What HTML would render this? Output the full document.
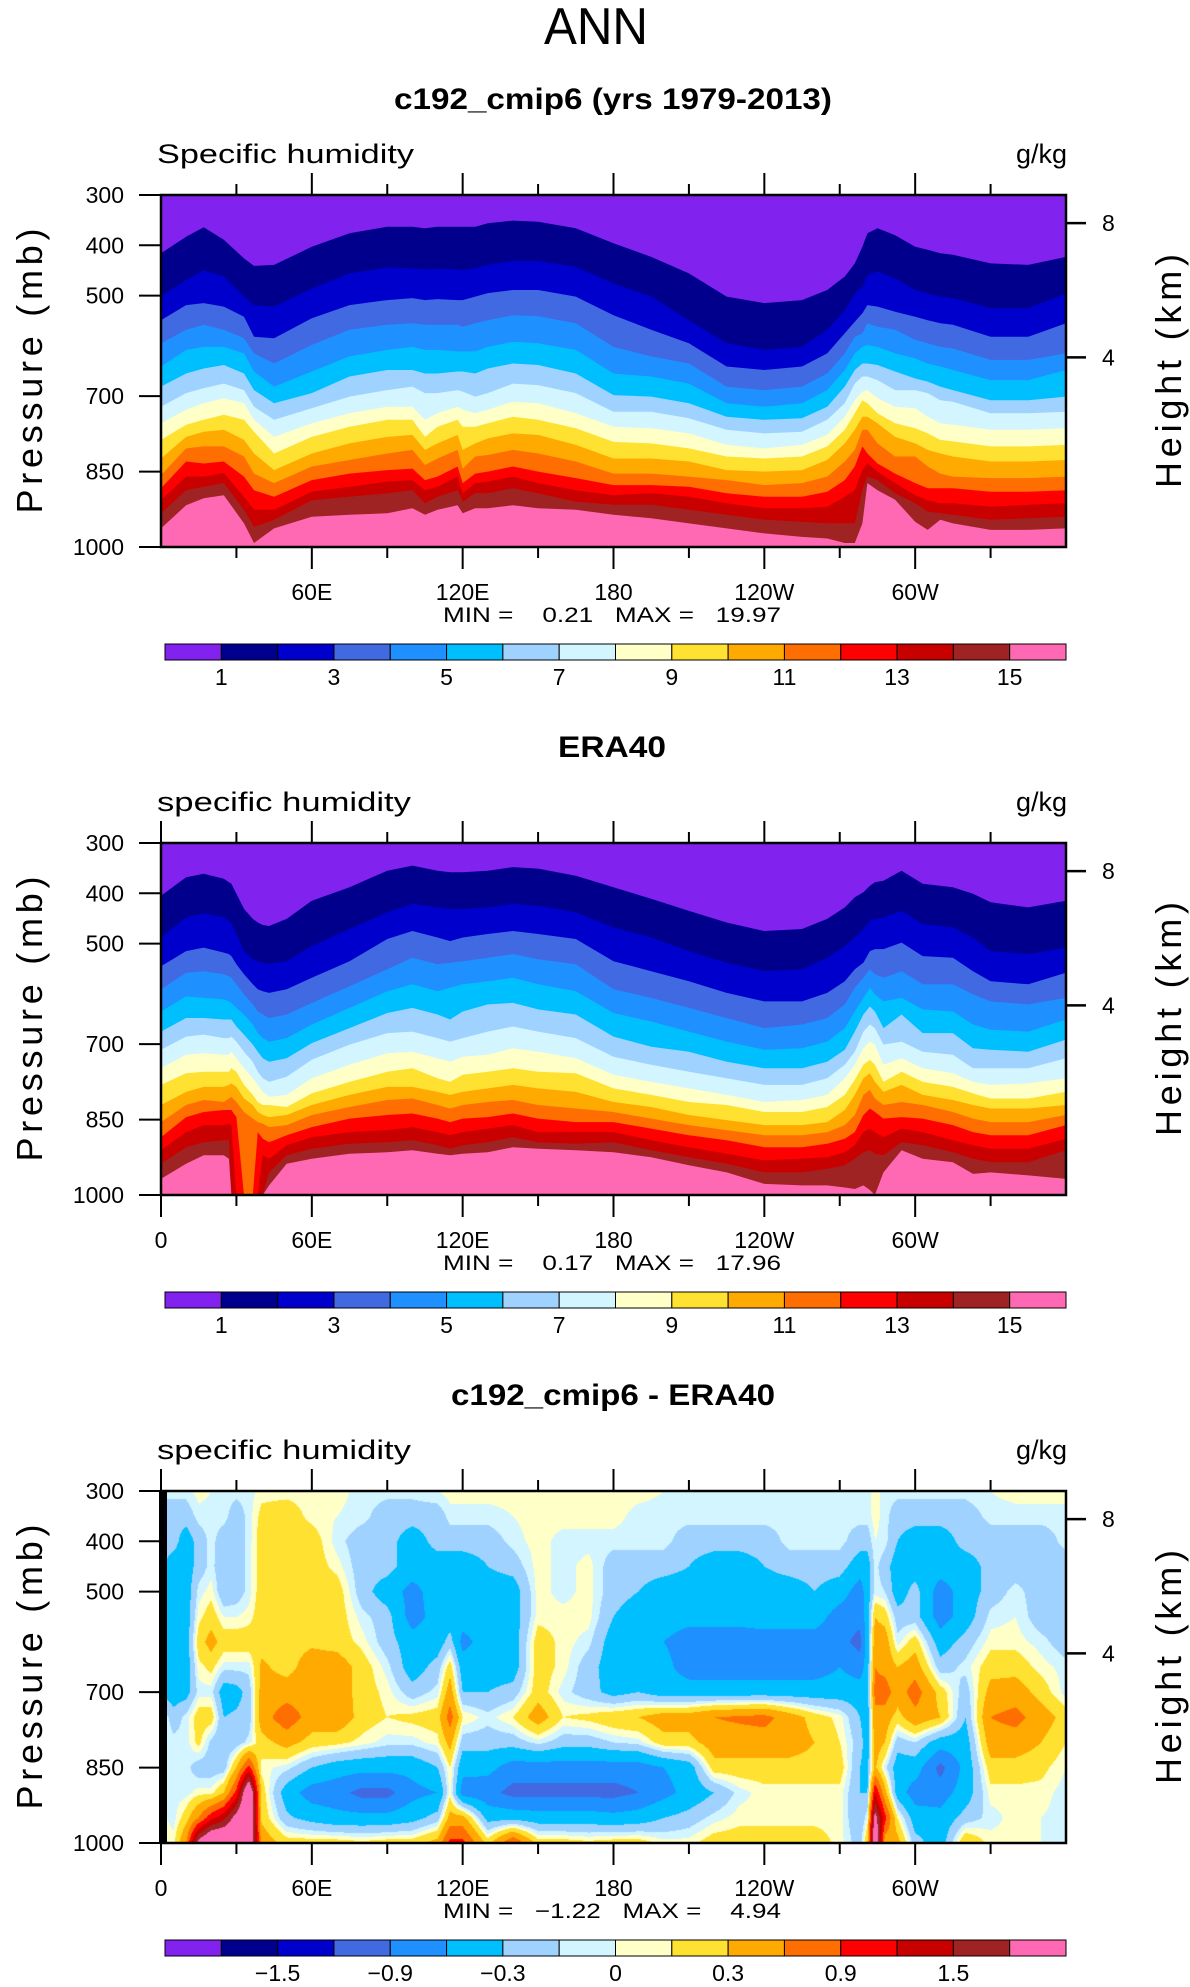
<!DOCTYPE html>
<html><head><meta charset="utf-8">
<style>
html,body{margin:0;padding:0;background:#fff;}
#wrap{position:relative;width:1190px;height:1987px;overflow:hidden;}
#c3{position:absolute;left:161px;top:1491px;}
#svg{position:absolute;left:0;top:0;}
text{font-family:"Liberation Sans",sans-serif;fill:#000;}
</style></head>
<body>
<div id="wrap">
<canvas id="c3" width="905" height="352"></canvas>
<svg id="svg" width="1190" height="1987" xmlns="http://www.w3.org/2000/svg">
<text x="596" y="44" text-anchor="middle" font-size="52" textLength="104" lengthAdjust="spacingAndGlyphs">ANN</text>
<g id="p1"></g>
<g id="p2"></g>
<g id="p3"></g>
</svg>
</div>
<script>
const colors = ["#8222EE","#00008C","#0000CD","#4169E1","#1E90FF","#00BFFF","#A0D2FF","#D2F5FF","#FFFFC8","#FFE132","#FFAA00","#FF6E00","#FF0000","#C80000","#A02323","#FF69B4"];
const qLevelLabels = ["","1","","3","","5","","7","","9","","11","","13","","15"];
const dLevels = [-1.8,-1.5,-1.2,-0.9,-0.6,-0.3,-0.1,0,0.1,0.3,0.6,0.9,1.2,1.5,1.8];
const dLevelLabels = ["","","−1.5","","−0.9","","−0.3","","0","","0.3","","0.9","","1.5",""];
const lonTickValues = [0,60,120,180,240,300];
const lonTickLabels = ["0","60E","120E","180","120W","60W"];
const pressureTicks = [300,400,500,700,850,1000];
const heightTicksKm = ["8","4"];
const heightTickPressures = [356,623];

const lons1 = [0,10,17,25,33,37,45,60,75,90,100,105,110,118,120,125,130,140,150,165,180,195,210,225,240,255,265,272,276,279,281,285,292,300,305,310,315,330,345,360];
const bounds1 = [
[416,501,549,595,641,681,721,754,787,824,857,883,907,933,963],
[383,469,519,568,608,655,694,727,757,781,804,830,860,887,917],
[364,450,515,558,602,645,684,714,747,771,800,834,860,880,903],
[389,462,522,568,602,638,675,704,737,767,800,830,853,873,897],
[426,502,542,585,615,655,688,714,747,787,820,860,900,926,953],
[441,519,582,615,651,688,721,747,771,814,854,887,926,960,992],
[439,522,585,635,681,714,747,781,814,847,873,900,926,946,963],
[403,486,545,598,651,694,724,754,781,814,840,867,890,907,940],
[376,456,519,568,621,661,701,734,761,794,827,854,880,900,936],
[363,444,509,558,608,648,688,721,747,781,814,847,870,893,933],
[363,446,505,555,602,648,681,721,747,777,807,844,867,887,923],
[366,448,509,558,608,655,694,747,781,807,837,867,887,913,936],
[363,447,507,558,608,655,694,734,761,794,824,860,880,900,926],
[363,448,509,558,611,651,688,721,747,777,807,840,860,887,917],
[363,449,509,562,611,651,691,727,761,807,844,873,893,910,933],
[363,446,502,555,611,655,701,734,761,794,820,854,873,893,923],
[356,439,495,549,602,645,694,727,754,784,817,850,870,893,923],
[351,431,489,539,592,635,675,711,741,774,807,840,860,883,917],
[353,431,489,541,595,638,678,714,747,777,814,850,873,893,923],
[366,443,502,555,608,655,694,734,764,797,830,863,887,910,926],
[396,476,539,602,655,698,731,761,791,824,854,877,897,916,936],
[423,502,568,621,661,701,731,764,794,824,854,877,893,916,943],
[456,549,595,635,675,714,744,774,804,830,860,880,900,926,953],
[502,595,641,681,714,741,767,797,820,847,867,893,913,936,963],
[515,608,648,688,721,747,774,804,824,850,877,900,923,946,973],
[509,602,641,681,714,744,771,797,820,847,873,900,923,950,980],
[489,568,615,655,688,721,747,777,800,827,860,890,920,953,983],
[462,529,575,615,648,681,714,741,767,794,830,867,900,953,992],
[436,496,552,582,615,648,675,708,734,767,807,840,887,953,992],
[403,482,535,575,602,635,661,691,708,741,767,800,847,887,953],
[376,459,519,555,598,635,661,688,714,741,767,814,834,860,873],
[366,452,522,562,602,638,668,704,734,754,794,834,850,867,887],
[380,466,532,568,615,651,688,721,754,781,820,854,873,893,906],
[403,489,542,588,625,665,688,724,764,794,820,873,897,913,950],
[409,496,549,595,635,671,694,741,774,807,840,883,907,930,966],
[416,502,555,602,641,681,708,754,787,814,854,883,913,933,946],
[419,505,558,605,648,688,711,757,790,820,860,883,913,936,953],
[436,525,582,628,668,708,734,767,800,830,863,890,920,946,966],
[439,525,582,628,668,708,734,767,800,830,863,890,916,943,966],
[423,496,555,615,648,701,731,764,797,827,860,887,913,940,963]
];

const lons2 = [0,10,17,25,27,28,30,33,36.5,38.5,40.5,43,50,60,75,90,100,110,115,120,130,140,150,165,180,195,210,225,240,255,265,272,276,279.4,282,284,287.4,294.6,303,315,323,330,345,360];
const bounds2 = [
[405,488,545,591,635,675,711,748,781,821,855,885,911,938,968],
[368,448,515,558,605,648,685,721,758,795,821,845,875,905,938],
[361,440,508,555,608,648,681,718,755,785,811,835,861,895,921],
[371,448,518,561,611,651,688,721,755,785,815,831,861,891,921],
[378,455,521,565,615,651,688,721,755,781,808,831,858,891,928],
[381,461,525,568,618,651,685,715,748,778,805,831,861,1000,1000],
[401,481,541,581,628,665,695,728,755,785,815,845,1000,1000,1000],
[431,515,561,601,641,681,715,748,781,808,835,1000,1000,1000,1000],
[451,531,581,621,661,701,735,768,801,821,848,1000,1000,1000,1000],
[458,535,591,635,678,715,755,781,815,835,855,875,1000,1000,1000],
[463,538,595,641,688,728,768,795,821,841,858,888,921,1000,1000],
[465,540,598,648,695,735,775,805,821,845,865,895,928,955,981],
[451,535,591,641,688,728,765,801,825,841,861,881,901,921,938],
[415,505,568,618,661,698,731,768,798,821,841,865,885,908,928],
[388,471,535,585,628,668,701,741,775,801,825,848,875,898,918],
[355,438,491,551,595,638,678,718,755,785,811,841,871,895,915],
[345,421,475,528,581,628,675,715,748,785,808,838,865,891,911],
[355,428,488,541,595,641,688,728,768,795,821,848,875,901,918],
[358,431,495,538,588,651,695,735,775,801,828,855,881,908,921],
[358,431,488,535,581,635,688,725,761,795,821,848,875,901,918],
[355,428,481,528,575,621,675,721,755,788,815,845,868,895,915],
[348,421,475,521,568,618,665,708,748,781,811,838,861,885,905],
[351,425,481,531,581,631,675,715,755,788,821,848,875,895,908],
[365,438,491,541,595,641,688,728,758,795,828,855,875,898,911],
[388,468,535,591,638,685,725,761,788,815,835,855,875,895,915],
[411,488,555,608,655,705,741,775,801,825,848,868,891,911,925],
[435,515,575,628,675,715,755,788,815,841,861,881,905,925,941],
[458,538,598,648,695,735,768,801,821,851,871,891,918,938,955],
[475,555,615,668,711,748,781,815,835,861,881,905,931,955,978],
[471,551,615,661,708,748,781,811,835,861,881,905,928,955,981],
[451,528,598,648,695,735,768,801,825,855,875,898,925,948,981],
[428,505,575,621,668,711,741,768,801,831,861,888,915,941,985],
[408,488,551,588,635,675,715,741,771,801,841,875,901,928,988],
[398,471,538,568,608,641,675,708,741,768,801,841,875,915,981],
[385,455,515,551,588,625,661,695,731,758,791,828,868,911,990],
[378,451,511,561,601,635,668,701,741,775,808,835,875,918,1000],
[375,448,511,568,615,668,701,741,775,795,821,848,885,921,955],
[355,435,498,555,608,641,695,728,755,781,815,845,868,895,911],
[381,461,525,581,631,678,715,748,775,801,821,848,875,901,928],
[388,468,528,581,635,678,721,758,785,811,835,861,891,915,935],
[401,488,555,601,661,708,748,775,798,821,848,875,901,928,958],
[418,515,575,615,671,711,748,781,808,828,855,881,908,935,955],
[428,521,581,621,675,715,748,778,808,828,855,881,908,935,961],
[415,508,558,608,651,691,728,768,795,821,841,861,888,911,968]
];

const lons3 = [0,5,10,15,20,25,30,35,40,50,60,70,80,90,100,110,115,120,130,140,150,160,170,180,190,200,210,220,230,240,250,260,270,278,281,284,288,293,300,310,320,330,340,350,360];
const pRows3 = [300,350,400,450,500,550,600,650,700,750,800,850,900,950,1000];
const vals3 = [
[-0.05,-0.2,-0.2,-0.25,-0.3,-0.3,-0.35,-0.35,-0.35,0.05,0.05,0.05,0.05,0.05,0.05],
[-0.05,-0.2,-0.2,-0.45,-0.45,-0.45,-0.45,-0.45,-0.45,-0.2,-0.05,-0.05,-0.05,-0.05,0.05],
[-0.05,-0.2,-0.45,-0.45,-0.45,-0.45,-0.45,-0.45,-0.4,-0.05,-0.05,-0.05,-0.05,0.2,0.6],
[0.05,-0.05,-0.2,-0.2,-0.05,0.05,0.2,0.05,-0.05,0.2,0.15,-0.2,0.05,0.6,2.0],
[0.0,-0.05,-0.05,-0.05,0.05,0.2,0.4,0.15,-0.05,0.2,-0.15,-0.2,0.05,1.1,2.5],
[-0.05,-0.05,-0.2,-0.25,-0.25,0.0,0.2,-0.05,-0.45,-0.3,-0.25,-0.2,0.3,1.4,2.5],
[-0.05,-0.2,-0.2,-0.2,-0.2,0.0,0.2,-0.05,-0.4,-0.25,-0.2,0.3,1.0,2.0,2.5],
[-0.05,-0.05,-0.05,-0.05,-0.05,0.05,0.2,-0.05,-0.2,-0.2,-0.05,1.0,2.5,2.5,2.5],
[0.05,0.15,0.2,0.2,0.2,0.2,0.2,0.35,0.4,0.45,0.2,0.05,0.2,0.25,0.5],
[0.05,0.2,0.25,0.25,0.25,0.25,0.2,0.2,0.45,0.8,0.4,-0.05,-0.45,-0.25,0.2],
[0.05,0.05,0.2,0.2,0.2,0.2,0.25,0.45,0.45,0.45,0.2,-0.3,-0.75,-0.4,0.2],
[0.05,0.0,-0.05,0.05,0.2,0.2,0.2,0.45,0.45,0.5,0.15,-0.45,-0.8,-0.5,0.2],
[-0.05,-0.05,-0.2,-0.2,-0.2,-0.05,0.05,0.2,0.2,0.2,0.05,-0.5,-1.0,-0.5,0.15],
[-0.05,-0.2,-0.2,-0.2,-0.45,-0.2,-0.2,-0.05,0.05,0.1,-0.05,-0.5,-1.0,-0.5,0.2],
[-0.05,-0.2,-0.45,-0.45,-0.7,-0.75,-0.45,-0.45,-0.2,0.15,-0.05,-0.5,-0.7,-0.4,0.2],
[0.0,-0.2,-0.2,-0.45,-0.45,-0.45,-0.45,-0.2,-0.05,0.2,0.05,-0.3,-0.6,-0.2,0.4],
[0.05,-0.05,-0.2,-0.45,-0.45,-0.45,-0.2,0.2,0.45,0.75,0.4,0.1,0.05,0.4,1.0],
[0.05,-0.05,-0.2,-0.45,-0.45,-0.45,-0.7,-0.45,-0.3,0.1,-0.2,-0.5,-0.75,0.4,1.0],
[0.05,-0.05,-0.2,-0.3,-0.45,-0.45,-0.45,-0.45,-0.3,-0.05,-0.2,-0.5,-0.8,-0.4,0.2],
[0.05,0.0,-0.05,-0.2,-0.45,-0.45,-0.45,-0.45,-0.2,0.1,-0.2,-0.75,-1.0,-0.4,0.9],
[0.05,0.05,0.05,0.05,0.05,0.05,0.2,0.2,0.2,0.45,-0.05,-0.75,-1.0,-0.45,0.2],
[0.05,0.05,-0.05,-0.05,-0.05,0.05,0.05,0.05,-0.05,0.1,-0.2,-0.75,-1.0,-0.45,0.2],
[0.05,0.05,-0.05,0.05,0.05,0.05,-0.05,-0.2,-0.2,0.15,-0.2,-0.75,-1.0,-0.45,0.15],
[0.05,0.05,-0.05,-0.2,-0.2,-0.3,-0.45,-0.45,-0.4,0.25,-0.1,-0.75,-1.0,-0.5,0.2],
[0.05,-0.05,-0.05,-0.2,-0.3,-0.45,-0.45,-0.45,-0.3,0.3,-0.05,-0.75,-0.9,-0.45,0.2],
[0.0,-0.05,-0.05,-0.2,-0.45,-0.45,-0.6,-0.5,-0.45,0.45,0.2,-0.6,-0.7,-0.3,0.05],
[-0.05,-0.05,-0.2,-0.3,-0.45,-0.5,-0.75,-0.75,-0.45,0.45,0.2,-0.45,-0.5,-0.2,0.05],
[-0.05,-0.05,-0.2,-0.45,-0.45,-0.5,-0.75,-0.75,-0.45,0.6,0.45,0.2,-0.3,-0.05,0.2],
[-0.05,-0.05,-0.2,-0.45,-0.45,-0.5,-0.75,-0.75,-0.45,0.65,0.45,0.2,-0.05,0.05,0.2],
[-0.05,-0.05,-0.2,-0.3,-0.45,-0.45,-0.75,-0.75,-0.45,0.7,0.45,0.2,0.05,0.05,0.2],
[-0.05,-0.05,-0.05,-0.2,-0.45,-0.45,-0.75,-0.75,-0.45,0.45,0.45,0.2,0.05,0.05,0.2],
[-0.05,-0.05,-0.05,-0.2,-0.3,-0.45,-0.75,-0.75,-0.45,0.2,0.3,0.2,0.05,0.05,0.2],
[-0.05,-0.05,-0.05,-0.2,-0.45,-0.75,-0.8,-0.6,-0.45,0.05,0.1,0.2,0.05,0.05,0.05],
[-0.05,-0.05,-0.2,-0.45,-0.75,-0.8,-1.0,-0.75,-0.45,-0.3,-0.2,-0.3,-0.3,-0.3,-0.2],
[-0.05,-0.05,-0.2,-0.45,-0.45,-0.45,-0.45,-0.45,-0.45,-0.45,-0.45,-0.4,-0.3,0.0,0.3],
[0.05,0.05,0.0,-0.05,-0.05,0.3,0.45,0.6,0.7,0.5,0.45,0.35,1.2,2.0,2.5],
[-0.05,-0.05,-0.05,-0.2,-0.1,0.2,0.45,0.5,0.75,0.45,0.3,-0.05,0.4,1.0,0.4],
[-0.05,-0.2,-0.3,-0.45,-0.45,-0.2,-0.05,0.3,0.45,0.2,-0.2,-0.45,-0.45,0.1,0.4],
[-0.05,-0.2,-0.45,-0.45,-0.2,-0.2,0.2,0.45,0.75,0.5,-0.1,-0.45,-0.75,-0.45,-0.2],
[-0.05,-0.2,-0.45,-0.45,-0.75,-0.75,-0.45,-0.2,0.2,0.3,-0.45,-1.0,-0.75,-0.5,-0.45],
[-0.05,-0.2,-0.2,-0.45,-0.45,-0.45,-0.2,-0.05,-0.2,-0.3,-0.45,-0.5,-0.45,-0.2,0.3],
[0.0,-0.05,-0.2,-0.2,-0.2,-0.05,0.05,0.2,0.4,0.6,0.45,0.2,0.05,-0.05,0.05],
[0.05,-0.05,-0.2,-0.2,-0.05,0.0,0.05,0.2,0.45,0.7,0.45,0.2,0.05,0.05,0.05],
[0.05,-0.05,-0.2,-0.2,-0.2,-0.2,-0.05,0.05,0.2,0.45,0.3,0.15,0.05,0.0,0.0],
[0.05,-0.05,-0.05,-0.2,-0.2,-0.2,-0.2,-0.05,-0.05,0.2,0.1,0.0,-0.05,-0.05,-0.05]
];

const NS = "http://www.w3.org/2000/svg";
const L = 161, R = 1066, W = 905, H = 352;
function X(lon){ return L + lon / 360 * W; }
function Y(top, p){ return top + (Math.min(p,1000) - 300) / 700 * H; }
function el(parent, tag, attrs, txt){
  const e = document.createElementNS(NS, tag);
  for (const k in attrs) e.setAttribute(k, attrs[k]);
  if (txt !== undefined) e.textContent = txt;
  parent.appendChild(e);
  return e;
}

function drawBands(g, top, lons, bounds){
  const bg = el(g, "rect", {x:L, y:top, width:W, height:H, fill:colors[0]});
  
  
  for (let k = 0; k < 15; k++){
    const pts = lons.map((lon,i)=> X(lon).toFixed(1)+","+Y(top,bounds[i][k]).toFixed(1));
    pts.push(X(360)+","+Y(top,1000), X(0)+","+Y(top,1000));
    const poly = el(g, "polygon", {points:pts.join(" "), fill:colors[k+1]});
    
    
  }
}

function drawAxes(g, top, o){
  const fr = el(g, "rect", {x:L, y:top, width:W, height:H, fill:"none", stroke:"#000", "stroke-width":2.5});
  
  
  if (o.thickLeft){
    const tl = el(g, "rect", {x:159, y:top-1, width:8, height:H+2, fill:"#000"});
    
    
  }
  for (let lon = 0; lon < 360; lon += 30){
    if (lon === 0 && !o.zeroTick) continue;
    const major = lon % 60 === 0;
    const len = major ? 22 : 11;
    const x = X(lon);
    const t1 = el(g, "line", {x1:x, x2:x, y1:top, y2:top-len, stroke:"#000", "stroke-width":2});
    
    
    const t2 = el(g, "line", {x1:x, x2:x, y1:top+H, y2:top+H+len, stroke:"#000", "stroke-width":2});
    
    
  }
  lonTickValues.forEach((lon,i)=>{
    if (lon === 0 && !o.zeroTick) return;
    const t = el(g, "text", {x:X(lon), y:top+H+53, "text-anchor":"middle", "font-size":23}, lonTickLabels[i]);
    
    
  });
  pressureTicks.forEach(p=>{
    const y = Y(top,p);
    const t = el(g, "line", {x1:L, x2:L-22, y1:y, y2:y, stroke:"#000", "stroke-width":2});
    
    
    const lb = el(g, "text", {x:124, y:y+8, "text-anchor":"end", "font-size":23}, String(p));
    
    
  });
  heightTickPressures.forEach((p,i)=>{
    const y = Y(top,p);
    const t = el(g, "line", {x1:R, x2:R+20, y1:y, y2:y, stroke:"#000", "stroke-width":2.5});
    
    
    const lb = el(g, "text", {x:1102, y:y+8, "font-size":23}, heightTicksKm[i]);
    
    
  });
  const cy = top + H/2;
  const yt = el(g, "text", {x:0, y:0, "text-anchor":"middle", "font-size":36, textLength:285, lengthAdjust:"spacing", transform:"translate(42,"+cy+") rotate(-90)"}, "Pressure  (mb)");
  
  
  const ht = el(g, "text", {x:0, y:0, "text-anchor":"middle", "font-size":36, textLength:234, lengthAdjust:"spacing", transform:"translate(1181,"+cy+") rotate(-90)"}, "Height  (km)");
  
  
  const tt = el(g, "text", {x:o.titleX, y:top-86, "font-size":30, "font-weight":"bold", textLength:o.titleW, lengthAdjust:"spacingAndGlyphs"}, o.title);
  
  
  const st = el(g, "text", {x:157, y:top-32, "font-size":27, textLength:o.subW, lengthAdjust:"spacingAndGlyphs"}, o.sub);
  
  
  const un = el(g, "text", {x:1067, y:top-32, "text-anchor":"end", "font-size":27}, "g/kg");
  
  
  const mm = el(g, "text", {x:443, y:top+H+75, "font-size":21, textLength:338, lengthAdjust:"spacingAndGlyphs", style:"white-space:pre"}, o.minmax);
  
  
  const cbY = top + H + 97, bw = (1066 - 165) / 16;
  for (let i = 0; i < 16; i++){
    const r = el(g, "rect", {x:165 + i*bw, y:cbY, width:bw, height:16, fill:colors[i], stroke:"#000", "stroke-width":1});
    
    
  }
  o.cbLabels.forEach((s,i)=>{
    if (!s) return;
    const t = el(g, "text", {x:165 + i*bw, y:cbY+41, "text-anchor":"middle", "font-size":23}, s);
    
    
  });
}

const g1 = document.getElementById("p1");
drawBands(g1, 195, lons1, bounds1);
drawAxes(g1, 195, {title:"c192_cmip6 (yrs 1979-2013)", titleX:394, titleW:438, sub:"Specific humidity", subW:257, minmax:"MIN =    0.21   MAX =   19.97", cbLabels:qLevelLabels, zeroTick:false});

const g2 = document.getElementById("p2");
drawBands(g2, 843, lons2, bounds2);
drawAxes(g2, 843, {title:"ERA40", titleX:558, titleW:108, sub:"specific humidity", subW:254, minmax:"MIN =    0.17   MAX =   17.96", cbLabels:qLevelLabels, zeroTick:true});

(function(){
  const cv = document.getElementById("c3");
  const ctx = cv.getContext("2d");
  const img = ctx.createImageData(W, H);
  const rgb = colors.map(c=>[parseInt(c.substr(1,2),16),parseInt(c.substr(3,2),16),parseInt(c.substr(5,2),16)]);
  for (let px = 0; px < W; px++){
    const lon = (px + 0.5) / W * 360;
    let i = 0;
    while (i < lons3.length - 2 && lons3[i+1] <= lon) i++;
    const t = (lon - lons3[i]) / (lons3[i+1] - lons3[i]);
    for (let py = 0; py < H; py++){
      const p = 300 + (py + 0.5) / H * 700;
      let j = 0;
      while (j < pRows3.length - 2 && pRows3[j+1] <= p) j++;
      const u = (p - pRows3[j]) / (pRows3[j+1] - pRows3[j]);
      const a = vals3[i][j], b = vals3[i+1][j], c = vals3[i][j+1], d = vals3[i+1][j+1];
      const v = (1-t)*(1-u)*a + t*(1-u)*b + (1-t)*u*c + t*u*d;
      let k = 0;
      while (k < dLevels.length && v >= dLevels[k]) k++;
      const o = (py*W + px)*4;
      img.data[o] = rgb[k][0]; img.data[o+1] = rgb[k][1]; img.data[o+2] = rgb[k][2]; img.data[o+3] = 255;
    }
  }
  ctx.putImageData(img, 0, 0);
})();

const g3 = document.getElementById("p3");
drawAxes(g3, 1491, {title:"c192_cmip6 - ERA40", titleX:451, titleW:324, sub:"specific humidity", subW:254, minmax:"MIN =   −1.22   MAX =    4.94", cbLabels:dLevelLabels, zeroTick:true, thickLeft:true});
</script>
</body></html>
